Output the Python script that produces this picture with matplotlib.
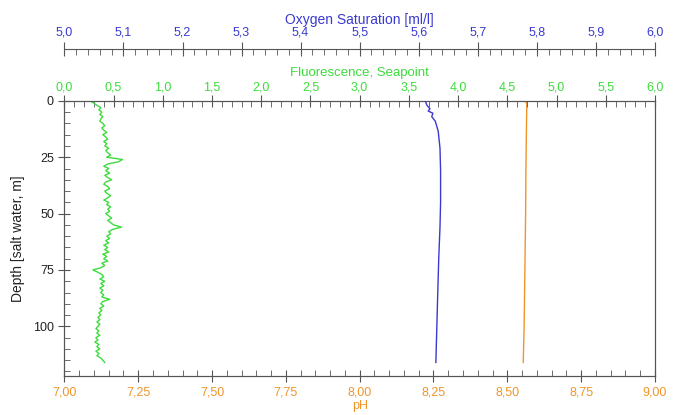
import matplotlib
matplotlib.use("Agg")
import numpy as np
import matplotlib.pyplot as plt
from matplotlib.ticker import MultipleLocator, FuncFormatter

plt.rcParams['font.family'] = ['Liberation Sans', 'DejaVu Sans']
plt.rcParams['font.size'] = 9

# fluorescence profile, one value per metre (0 .. 116 m)
fluor_depth = list(range(0, 117))
fluor = [0.26, 0.30, 0.33, 0.37, 0.35, 0.38, 0.36, 0.39, 0.37, 0.36,
         0.39, 0.41, 0.38, 0.40, 0.43, 0.39, 0.42, 0.44, 0.40, 0.43,
         0.41, 0.45, 0.42, 0.44, 0.47, 0.43, 0.59, 0.55, 0.44, 0.40,
         0.45, 0.42, 0.46, 0.41, 0.44, 0.48, 0.42, 0.40, 0.44, 0.46,
         0.41, 0.43, 0.47, 0.44, 0.40, 0.45, 0.43, 0.47, 0.44, 0.46,
         0.42, 0.45, 0.48, 0.44, 0.47, 0.50, 0.58, 0.49, 0.45, 0.47,
         0.43, 0.46, 0.42, 0.45, 0.40, 0.44, 0.41, 0.45, 0.39, 0.43,
         0.40, 0.44, 0.38, 0.41, 0.37, 0.29, 0.34, 0.38, 0.40, 0.36,
         0.41, 0.37, 0.40, 0.36, 0.39, 0.37, 0.40, 0.38, 0.46, 0.39,
         0.37, 0.40, 0.36, 0.38, 0.35, 0.37, 0.34, 0.36, 0.33, 0.36,
         0.34, 0.32, 0.35, 0.33, 0.36, 0.32, 0.34, 0.31, 0.35, 0.33,
         0.36, 0.32, 0.35, 0.33, 0.37, 0.39, 0.41]

# oxygen saturation profile
oxy_depth = [0, 2, 3.5, 4.5, 5.5, 7, 9, 13.5, 21, 31, 45, 56, 69, 87, 97, 116]
oxy = [5.611, 5.614, 5.619, 5.616, 5.624, 5.622, 5.628, 5.633, 5.636, 5.637,
       5.637, 5.636, 5.634, 5.632, 5.631, 5.629]

# pH profile
ph_depth = [0, 0.5, 1, 10, 30, 50, 70, 90, 100, 110, 116]
ph = [8.575, 8.562, 8.566, 8.565, 8.563, 8.562, 8.560, 8.558, 8.557, 8.555, 8.554]

c_oxy = '#3a3ad0'
c_fl = '#3ddc3d'
c_ph = '#f0952a'
c_ax = '#555555'


def comma(fmt):
    return FuncFormatter(lambda v, p: (fmt % v).replace('.', ','))


fig = plt.figure(figsize=(6.78, 4.15), dpi=100)
ax = fig.add_axes([0.095, 0.094, 0.871, 0.663])

# pH on the bottom axis
ax.plot(ph, ph_depth, color=c_ph, lw=1)
ax.set_xlim(7, 9)
ax.set_ylim(122, 0)
ax.xaxis.set_major_locator(MultipleLocator(0.25))
ax.xaxis.set_minor_locator(MultipleLocator(0.05))
ax.xaxis.set_major_formatter(comma('%.2f'))
ax.yaxis.set_major_locator(MultipleLocator(25))
ax.yaxis.set_minor_locator(MultipleLocator(5))
ax.tick_params(axis='x', which='major', direction='inout', length=8, colors=c_ax, labelcolor=c_ph)
ax.tick_params(axis='x', which='minor', direction='in', length=4, colors=c_ax)
ax.tick_params(axis='y', which='major', direction='inout', length=8, colors=c_ax, labelcolor='#222222')
ax.tick_params(axis='y', which='minor', direction='in', length=4, colors=c_ax)
ax.set_xlabel('pH', color=c_ph, labelpad=1, fontsize=9)
ax.set_ylabel('Depth [salt water, m]', color='#222222', fontsize=10, labelpad=6)
for s in ax.spines.values():
    s.set_color(c_ax)

# fluorescence on the top of the plot
ax_f = ax.twiny()
ax_f.plot(fluor, fluor_depth, color=c_fl, lw=1)
ax_f.set_xlim(0, 6)
ax_f.xaxis.set_major_locator(MultipleLocator(0.5))
ax_f.xaxis.set_minor_locator(MultipleLocator(0.1))
ax_f.xaxis.set_major_formatter(comma('%.1f'))
ax_f.tick_params(axis='x', which='major', direction='inout', length=8, colors=c_ax, labelcolor=c_fl, pad=1)
ax_f.tick_params(axis='x', which='minor', direction='in', length=4, colors=c_ax)
ax_f.set_xlabel('Fluorescence, Seapoint', color=c_fl, labelpad=4, fontsize=9.5)
for s in ax_f.spines.values():
    s.set_color(c_ax)

# oxygen on a detached axis above
ax_o = ax.twiny()
ax_o.plot(oxy, oxy_depth, color=c_oxy, lw=1)
ax_o.set_xlim(5, 6)
ax_o.spines['top'].set_position(('outward', 37))
for side in ['left', 'right', 'bottom']:
    ax_o.spines[side].set_visible(False)
ax_o.spines['top'].set_color(c_ax)
ax_o.xaxis.set_major_locator(MultipleLocator(0.1))
ax_o.xaxis.set_minor_locator(MultipleLocator(0.02))
ax_o.xaxis.set_major_formatter(comma('%.1f'))
ax_o.tick_params(axis='x', which='major', direction='inout', length=10, colors=c_ax, labelcolor=c_oxy, pad=3)
ax_o.tick_params(axis='x', which='minor', direction='in', length=4, colors=c_ax)
ax_o.set_xlabel('Oxygen Saturation [ml/l]', color=c_oxy, labelpad=2, fontsize=10)
ax_o.patch.set_visible(False)

fig.savefig('out.png', dpi=100)
